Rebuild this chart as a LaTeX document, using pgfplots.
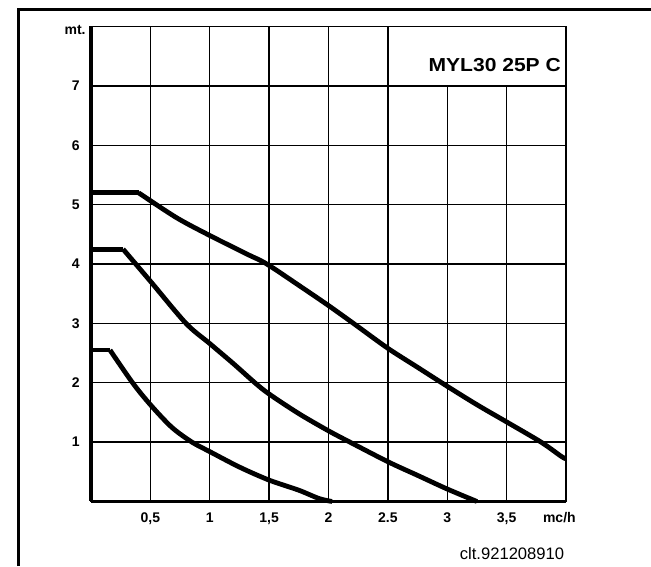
\documentclass[border=0pt]{standalone}
\usepackage{fontspec}
\setmainfont{Liberation Sans}
\usepackage{graphicx}
\usepackage{pgfplots}
\pgfplotsset{compat=1.18}

\begin{document}
\begin{tikzpicture}[x=1pt,y=1pt]
\useasboundingbox (0,0) rectangle (325.5,283);
% open outer frame (top and left only)
\draw[line width=1.5pt] (9,0) -- (9,278.3) -- (325.5,278.3);
\begin{axis}[
    at={(45.5pt,32.25pt)}, anchor=south west,
    scale only axis, width=237.5pt, height=237.5pt,
    xmin=0, xmax=4, ymin=0, ymax=8,
    clip=false,
    xtick={0.5,1,1.5,2,2.5,3,3.5},
    xticklabels={{0,5},{1},{1,5},{2},{2.5},{3},{3,5}},
    ytick={1,2,3,4,5,6,7},
    yticklabels={1,2,3,4,5,6,7},
    major tick length=0pt,
    grid=major,
    grid style={line width=0.7pt, draw=black},
    axis line style={line width=0.7pt},
    tick label style={font=\fontsize{7}{8}\selectfont\bfseries},
    xticklabel style={anchor=base, yshift=-10.3pt},
    yticklabel style={anchor=east, xshift=-2.2pt},
    xlabel={mc/h},
    xlabel style={at={(rel axis cs:0.986,0)}, anchor=base, yshift=-10.3pt,
      inner sep=0pt, font=\fontsize{7}{8}\selectfont\bfseries},
    ylabel={mt.},
    ylabel style={at={(rel axis cs:0,1)}, rotate=-90, anchor=base east,
      xshift=-2.5pt, yshift=-3.8pt, inner sep=0pt,
      font=\fontsize{7}{8}\selectfont\bfseries},
    curve/.style={black, line width=2.4pt, line join=round, no markers},
  ]
  % top curve: flat part, then smooth descent
  \addplot[curve] coordinates {(0,5.2) (0.4,5.2)};
  \addplot[curve, smooth, tension=0.5] coordinates {
    (0.4,5.2) (0.72,4.78) (1.0,4.48) (1.31,4.17) (1.48,4.0)
    (1.78,3.6) (2.0,3.3) (2.21,3.0) (2.5,2.58) (2.75,2.26) (3.0,1.94)
    (3.25,1.63) (3.5,1.34) (3.79,1.0) (3.96,0.76) (4.0,0.72)
  };
  % middle curve
  \addplot[curve] coordinates {(0,4.25) (0.27,4.25)};
  \addplot[curve, smooth, tension=0.5] coordinates {
    (0.27,4.25) (0.5,3.71) (0.8,3.0) (1.0,2.66) (1.2,2.32)
    (1.38,2.0) (1.5,1.81) (1.75,1.48) (2.0,1.19) (2.18,1.0) (2.5,0.67)
    (2.75,0.44) (3.0,0.21) (3.25,0)
  };
  % bottom curve
  \addplot[curve] coordinates {(0,2.55) (0.16,2.55)};
  \addplot[curve, smooth, tension=0.5] coordinates {
    (0.16,2.55) (0.35,2.0) (0.5,1.63) (0.68,1.25) (0.85,1.0)
    (1.0,0.84) (1.25,0.58) (1.5,0.36) (1.75,0.19) (1.92,0.05) (2.03,0)
  };
  % title box
  \filldraw[fill=white, draw=black, line width=0.7pt]
    (axis cs:2.5,7) rectangle (axis cs:4,8);
  \node[anchor=base east, inner sep=0pt, font=\fontsize{9.4}{10}\selectfont\bfseries]
    at (axis cs:3.96,7.24) {\scalebox{1.12}[1]{MYL30 25P C}};
  % heavier left and bottom axis lines
  \draw[line width=2pt] (rel axis cs:0,1) -- (rel axis cs:0,0);
  \draw[line width=1.3pt] (rel axis cs:0,0) -- (rel axis cs:1,0);
\end{axis}
\node[anchor=base, font=\fontsize{8.3}{9}\selectfont] at (256,3.3) {clt.921208910};
\end{tikzpicture}
\end{document}
